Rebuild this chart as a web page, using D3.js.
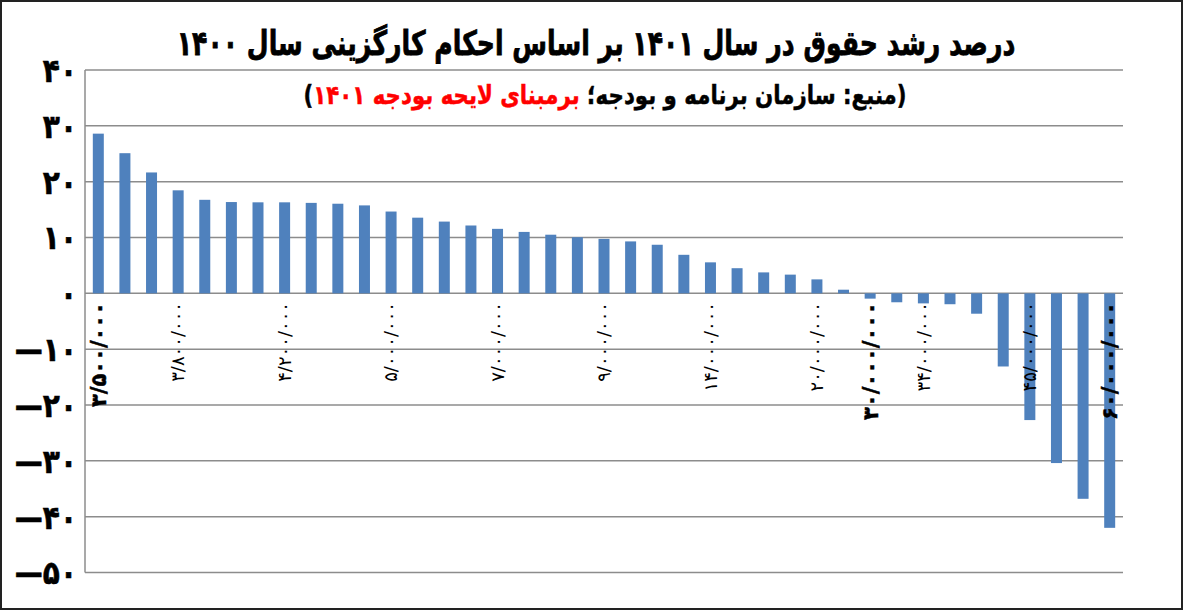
<!DOCTYPE html>
<html><head><meta charset="utf-8">
<script src="https://cdn.jsdelivr.net/npm/d3@7"></script>
<style>html,body{margin:0;padding:0;background:#fff;}svg{display:block;}</style>
</head><body>
<svg id="chart" width="1183" height="610"></svg>
<script>
// ---- data ----
const values = [28.6, 25.1, 21.65, 18.45, 16.75, 16.35, 16.3, 16.3, 16.2, 16.05,
  15.75, 14.65, 13.55, 12.85, 12.15, 11.55, 11.0, 10.5, 10.05, 9.75,
  9.3, 8.7, 6.9, 5.55, 4.5, 3.75, 3.35, 2.5, 0.65, -0.95,
  -1.6, -1.8, -1.95, -3.65, -13.1, -22.7, -30.4, -36.8, -42.0];
const categories = values.map((d, i) => i);
const tickCats = [3, 7, 11, 15, 19, 23, 27, 31, 35];
const tickTexts = ["۳/۸۰۰/۰۰۰", "۴/۲۰۰/۰۰۰", "۵/۰۰۰/۰۰۰", "۷/۰۰۰/۰۰۰", "۹/۰۰۰/۰۰۰",
  "۱۴/۰۰۰/۰۰۰", "۲۰/۰۰۰/۰۰۰", "۳۴/۰۰۰/۰۰۰", "۴۵/۰۰۰/۰۰۰"];
const keyCats = [0, 29, 38];
const keyTexts = ["۳/۵۰۰/۰۰۰", "۳۰/۰۰۰/۰۰۰", "۶۰/۰۰۰/۰۰۰"];
const yTicks = [40, 30, 20, 10, 0, -10, -20, -30, -40, -50];
const yTickLabels = ["۴۰", "۳۰", "۲۰", "۱۰", "۰", "—۱۰", "—۲۰", "—۳۰", "—۴۰", "—۵۰"];
const title = "درصد رشد حقوق در سال ۱۴۰۱ بر اساس احکام کارگزینی سال ۱۴۰۰";
const subBlack1 = "(منبع: سازمان برنامه و بودجه؛ ";
const subRed = "برمبنای لایحه بودجه ۱۴۰۱";
const subBlack2 = ")";

// ---- layout ----
const W = 1183, H = 610;
const pLeft = 85, pRight = 1123, pTop = 70, pBottom = 572.5;
const svg = d3.select("#chart");
const FONT = "'DejaVu Sans', sans-serif";

svg.append("rect").attr("x", 1).attr("y", 1).attr("width", W - 2).attr("height", H - 2)
  .attr("fill", "#fff").attr("stroke", "#222").attr("stroke-width", 2);

const x = d3.scaleBand().domain(categories).range([pLeft, pRight])
  .paddingInner(0.587).paddingOuter(0.2935);
const y = d3.scaleLinear().domain([-50, 40]).range([pBottom, pTop]);

// gridlines
svg.append("g").selectAll("line").data(yTicks).join("line")
  .attr("x1", pLeft).attr("x2", pRight)
  .attr("y1", d => y(d)).attr("y2", d => y(d))
  .attr("stroke", "#8c8c8c").attr("stroke-width", 1.5);
// left axis line
svg.append("line").attr("x1", pLeft).attr("x2", pLeft).attr("y1", pTop).attr("y2", pBottom)
  .attr("stroke", "#8c8c8c").attr("stroke-width", 1.5);

// bars
svg.append("g").selectAll("rect").data(values).join("rect")
  .attr("x", (d, i) => x(i)).attr("width", x.bandwidth())
  .attr("y", d => y(Math.max(0, d)))
  .attr("height", d => Math.abs(y(d) - y(0)))
  .attr("fill", "#4f81bd");

// y labels
svg.append("g").selectAll("text").data(yTicks).join("text")
  .attr("transform", d => `translate(77,${y(d)}) scale(0.85,1)`)
  .attr("text-anchor", "end").attr("dy", "0.36em").attr("direction", "ltr")
  .attr("font-family", FONT).attr("font-weight", "bold").attr("font-size", 33)
  .attr("fill", "#000").attr("stroke", "#000").attr("stroke-width", 0.6)
  .text((d, i) => yTickLabels[i]);

// x tick labels (rotated)
svg.append("g").selectAll("text").data(tickCats).join("text")
  .attr("transform", d => `translate(${x(d) + x.bandwidth() / 2},302) rotate(-90)`)
  .attr("text-anchor", "end").attr("dy", "0.35em").attr("direction", "ltr")
  .attr("font-family", FONT).attr("font-size", 18).attr("fill", "#000")
  .text((d, i) => tickTexts[i]);
svg.append("g").selectAll("text").data(keyCats).join("text")
  .attr("transform", d => `translate(${x(d) + x.bandwidth() / 2},302) rotate(-90)`)
  .attr("text-anchor", "end").attr("dy", "0.35em").attr("direction", "ltr")
  .attr("font-family", FONT).attr("font-weight", "bold").attr("font-size", 21).attr("fill", "#000")
  .attr("stroke", "#000").attr("stroke-width", 0.5)
  .text((d, i) => keyTexts[i]);

// title
svg.append("text").attr("transform", "translate(596,55) scale(0.74,1)").attr("text-anchor", "middle")
  .attr("direction", "rtl").attr("font-family", FONT).attr("font-weight", "bold")
  .attr("font-size", 34).attr("fill", "#000").attr("stroke", "#000").attr("stroke-width", 0.8)
  .text(title);

// subtitle
const st = svg.append("text").attr("transform", "translate(605,104) scale(0.82,1)").attr("text-anchor", "middle")
  .attr("direction", "rtl").attr("font-family", FONT).attr("font-weight", "bold")
  .attr("font-size", 26).attr("fill", "#000").attr("stroke", "#000").attr("stroke-width", 0.5);
st.append("tspan").text(subBlack1);
st.append("tspan").attr("fill", "#ff0000").attr("stroke", "#ff0000").text(subRed);
st.append("tspan").text(subBlack2);
</script>
</body></html>
